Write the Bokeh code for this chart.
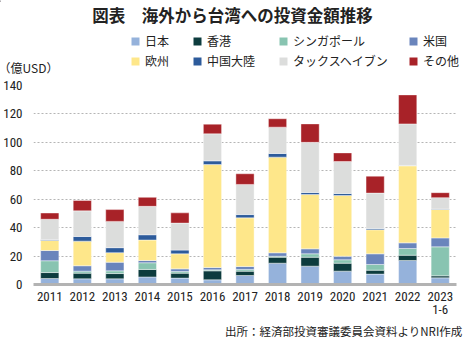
from bokeh.plotting import figure
from bokeh.layouts import column
from bokeh.models import FactorRange, Range1d, Legend, LegendItem, Label, FixedTicker, Title
from bokeh.embed import file_html
from bokeh.resources import INLINE

years = ["2011", "2012", "2013", "2014", "2015", "2016", "2017", "2018",
         "2019", "2020", "2021", "2022", "2023\n1-6"]
series_names = ["日本", "香港", "シンガポール", "米国", "欧州", "中国大陸", "タックスヘイブン", "その他"]
japan     = [4.2, 4.0, 4.0, 5.3, 4.5, 3.3, 6.3, 15.0, 12.9, 9.4, 7.3, 16.9, 4.7]
hongkong  = [4.2, 4.0, 3.7, 5.3, 3.5, 6.3, 3.1, 4.2, 6.3, 5.6, 2.8, 3.7, 1.4]
singapore = [8.3, 1.4, 1.9, 4.7, 1.1, 0.7, 1.2, 0.7, 2.4, 2.4, 4.0, 4.7, 20.4]
usa       = [7.2, 3.8, 6.1, 1.6, 1.9, 1.7, 2.1, 2.4, 3.5, 2.5, 7.5, 4.0, 6.3]
europe    = [7.1, 17.3, 6.7, 14.4, 10.6, 72.4, 34.2, 67.3, 38.2, 42.7, 16.9, 54.2, 20.0]
china     = [0.5, 3.3, 3.5, 3.7, 2.6, 2.6, 2.3, 2.6, 1.4, 1.4, 0.9, 0.3, 0.3]
taxhaven  = [14.4, 18.0, 18.5, 20.0, 19.0, 19.0, 21.2, 18.5, 35.3, 22.5, 24.9, 29.2, 8.0]
other     = [4.4, 7.3, 8.3, 6.3, 7.2, 6.8, 7.5, 5.9, 13.0, 6.1, 11.9, 20.4, 3.5]
y_ticks = [0, 20, 40, 60, 80, 100, 120, 140]

colors = ["#95b2db", "#0d3c3e", "#88c4b1", "#6a85bc", "#fee78a", "#2d5b9b", "#dcdddc", "#a82228"]

TITLE = "図表　海外から台湾への投資金額推移"
UNIT = "（億USD）"
SOURCE = "出所：経済部投資審議委員会資料よりNRI作成"

JP = "Noto Sans CJK JP"
NUM = "'Roboto Condensed', 'Noto Sans Condensed', 'Liberation Sans Narrow', Roboto, sans-serif"
TXT = "#222222"

W = 465
TOP_H = 75                 # header strip (title, legend, unit)
MAIN_H = 340 - TOP_H
FL, FR = 31, 456           # frame left/right in canvas px
FRAME_TOP, FRAME_BOT = 85, 284

keys = ["japan", "hongkong", "singapore", "usa", "europe", "china", "taxhaven", "other"]
data = {"year": years}
for k, arr in zip(keys, [japan, hongkong, singapore, usa, europe, china, taxhaven, other]):
    data[k] = arr

# ---------------- header ----------------
head = figure(width=W, height=TOP_H, x_range=Range1d(0, W), y_range=Range1d(TOP_H, 0),
              x_axis_type=None, y_axis_type=None, output_backend="svg", toolbar_location=None,
              min_border=0, min_border_left=0, min_border_right=0, min_border_top=0, min_border_bottom=0)
head.frame_align = False
head.outline_line_color = None
head.grid.visible = False

head.add_layout(Label(x=232, y=14, text=TITLE, text_font=JP, text_font_size="16.5px",
                      text_font_style="bold", text_align="center", text_baseline="middle",
                      text_color=TXT))
head.add_layout(Label(x=-2, y=67, text=UNIT, text_font=JP, text_font_size="12px",
                      text_align="left", text_baseline="middle", text_color=TXT))

col_x = [130, 192, 278, 408]
row_y = [42, 62]
for i, (name, c) in enumerate(zip(series_names, colors)):
    # swatch renderer kept outside the visible header range; only its legend glyph shows
    swatch = head.vbar(x=[-100], top=[1], bottom=[0], width=1, fill_color=c, line_color=None)
    cx = col_x[i % 4]
    cy = row_y[i // 4]
    lg = Legend(items=[LegendItem(label=name, renderers=[swatch])],
                location=(cx, TOP_H - (cy + 7)),
                glyph_width=10, glyph_height=10, label_standoff=5,
                label_text_font=JP, label_text_font_size="12px",
                label_text_color=TXT, label_height=14,
                padding=0, margin=0, spacing=0,
                background_fill_alpha=0, border_line_color=None)
    head.add_layout(lg)

# ---------------- main chart ----------------
p = figure(width=W, height=MAIN_H, x_range=FactorRange(*years), y_range=Range1d(0, 140),
           output_backend="svg", toolbar_location=None,
           min_border_left=FL, min_border_right=W - FR,
           min_border_top=FRAME_TOP - TOP_H, min_border_bottom=340 - FRAME_BOT)
p.outline_line_color = None

p.vbar_stack(keys, x="year", width=0.56, color=colors, source=data,
             line_color="white", line_width=0.6, line_alpha=0.7)

p.xgrid.grid_line_color = None
p.ygrid.grid_line_color = "#b5b5b5"
p.ygrid.grid_line_dash = "2 2"
p.ygrid.grid_line_width = 1
p.yaxis.ticker = FixedTicker(ticks=y_ticks)
p.yaxis.axis_line_color = None
p.yaxis.major_tick_line_color = None
p.yaxis.minor_tick_line_color = None
p.yaxis.major_label_text_font = NUM
p.yaxis.major_label_text_font_size = "13px"
p.yaxis.major_label_text_color = TXT
p.yaxis.major_label_standoff = 5

p.xaxis.axis_line_color = "#b3b3b3"
p.xaxis.axis_line_width = 3
p.xaxis.major_tick_line_color = None
p.xaxis.minor_tick_line_color = None
p.xaxis.major_label_text_font = NUM
p.xaxis.major_label_text_font_size = "13px"
p.xaxis.major_label_text_line_height = 0.9
p.xaxis.major_label_text_color = TXT
p.xaxis.major_label_standoff = -2
p.xaxis.major_label_orientation = "horizontal"

src = Title(text=SOURCE, align="right", text_font=JP, text_font_size="11.5px",
            text_font_style="normal", text_color=TXT, offset=-6, standoff=0)
p.add_layout(src, "below")

layout = column(head, p, spacing=0)
open("out.html", "w").write(file_html(layout, INLINE))
